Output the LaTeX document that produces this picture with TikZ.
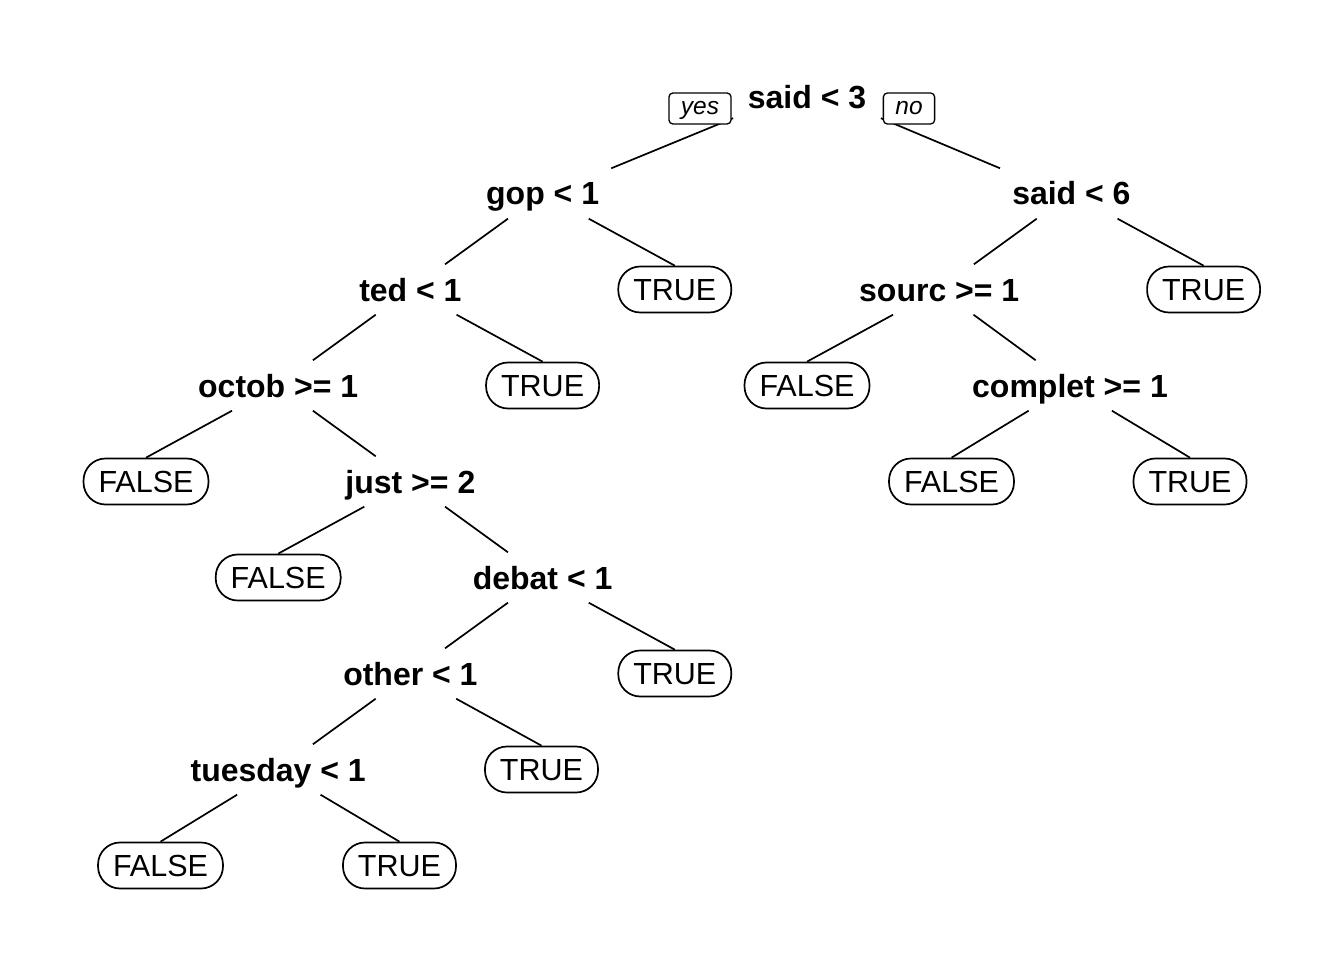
\documentclass[tikz,border=0pt]{standalone}
\usepackage{fontspec}
\setmainfont{Liberation Sans}
\begin{document}
\begin{tikzpicture}[x=1pt,y=-1pt,
  splitnode/.style={inner xsep=4pt, inner ysep=0pt, text height=23pt, text depth=0pt,
    minimum height=50pt, font=\fontsize{32}{38}\selectfont\bfseries},
  leafnode/.style={draw, line width=1.7pt, rounded corners=22pt, inner xsep=15pt, inner ysep=0pt,
    text height=22pt, text depth=0pt, minimum height=46pt, font=\fontsize{30.5}{36}\selectfont},
  edge/.style={line width=1.7pt},
  tag/.style={draw, fill=white, line width=1.3pt, rounded corners=4pt, inner xsep=12pt,
    inner ysep=0pt, text height=12.7pt, text depth=0pt, minimum height=31pt,
    font=\fontsize{24.5}{29}\selectfont\itshape}]
\useasboundingbox[fill=white] (0,0) rectangle (1344,960);

% split nodes
\node[splitnode, minimum height=41pt, inner xsep=14.5pt] (root) at (807,97.5) {said < 3};
\node[splitnode, inner xsep=12pt] (gop)   at (542.6,193.5) {gop < 1};
\node[splitnode, inner xsep=12pt] (said6) at (1071.4,193.5){said < 6};
\node[splitnode] (ted)     at (410.4,289.5) {ted < 1};
\node[splitnode] (sourc)   at (939.2,289.5) {sourc >= 1};
\node[splitnode] (octob)   at (278.2,385.5) {octob >= 1};
\node[splitnode] (complet) at (1070,385.5)  {complet >= 1};
\node[splitnode] (just)    at (410.4,481.5) {just >= 2};
\node[splitnode] (debat)   at (542.6,577.5) {debat < 1};
\node[splitnode] (other)   at (410.4,673.5) {other < 1};
\node[splitnode] (tuesday) at (278.2,769.5) {tuesday < 1};

% leaves
\node[leafnode] (lgop)   at (674.8,289.5)  {TRUE};
\node[leafnode] (lsaid)  at (1203.6,289.5) {TRUE};
\node[leafnode] (lted)   at (542.6,385.5)  {TRUE};
\node[leafnode] (lsourc) at (807,385.5)    {FALSE};
\node[leafnode] (loctob) at (146,481.5)    {FALSE};
\node[leafnode] (lcompf) at (951.5,481.5)  {FALSE};
\node[leafnode] (lcompt) at (1190,481.5)   {TRUE};
\node[leafnode] (ljust)  at (278.2,577.5)  {FALSE};
\node[leafnode] (ldebat) at (674.8,673.5)  {TRUE};
\node[leafnode] (lother) at (541.5,769.5)  {TRUE};
\node[leafnode] (ltuef)  at (160.5,865.5)  {FALSE};
\node[leafnode] (ltuet)  at (399.5,865.5)  {TRUE};

% branches
\draw[edge] (root.south west) -- (gop.north east);
\draw[edge] (root.south east) -- (said6.north west);
\draw[edge] (gop) -- (ted);
\draw[edge] (gop) -- (lgop.north);
\draw[edge] (said6) -- (sourc);
\draw[edge] (said6) -- (lsaid.north);
\draw[edge] (ted) -- (octob);
\draw[edge] (ted) -- (lted.north);
\draw[edge] (sourc) -- (lsourc.north);
\draw[edge] (sourc) -- (complet);
\draw[edge] (octob) -- (loctob.north);
\draw[edge] (octob) -- (just);
\draw[edge] (complet) -- (lcompf.north);
\draw[edge] (complet) -- (lcompt.north);
\draw[edge] (just) -- (ljust.north);
\draw[edge] (just) -- (debat);
\draw[edge] (debat) -- (other);
\draw[edge] (debat) -- (ldebat.north);
\draw[edge] (other) -- (tuesday);
\draw[edge] (other) -- (lother.north);
\draw[edge] (tuesday) -- (ltuef.north);
\draw[edge] (tuesday) -- (ltuet.north);

% yes / no tags on the root branches
\node[tag] (yes) at (700,108.5) {yes};
\node[tag] (no)  at (909,108.5) {no};
\end{tikzpicture}
\end{document}
